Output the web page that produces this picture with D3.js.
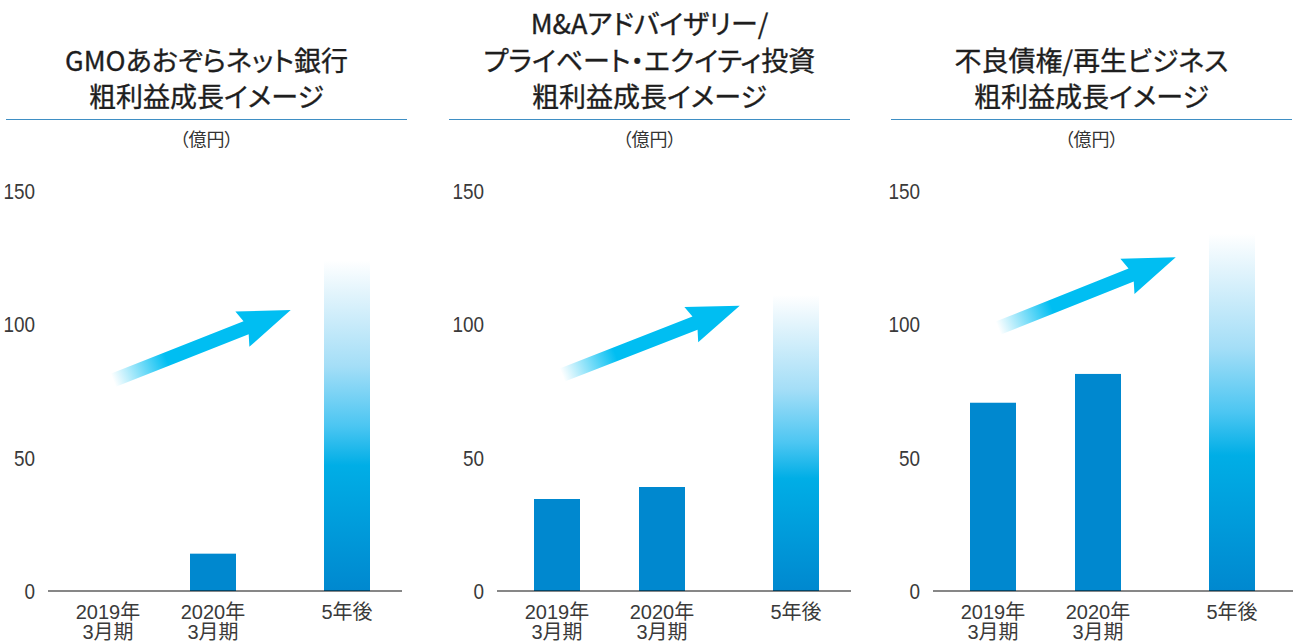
<!DOCTYPE html>
<html>
<head>
<meta charset="utf-8">
<script src="https://cdn.jsdelivr.net/npm/d3@7"></script>
<style>
  body { margin: 0; background: #fff; }
  svg { display: block; }
  .title { font-family: "Noto Sans CJK JP", sans-serif; font-weight: 500; fill: #1e1e1e; font-feature-settings: "palt"; }
  .lbl { font-family: "Liberation Sans", "Noto Sans CJK JP", sans-serif; fill: #3a3a3a; }
</style>
</head>
<body>
<div id="main"></div>
<script>
// data
var titles = [
    ["GMOあおぞらネット銀行", "粗利益成長イメージ"],
    ["M&Aアドバイザリー/", "プライベート・エクイティ投資", "粗利益成長イメージ"],
    ["不良債権/再生ビジネス", "粗利益成長イメージ"]
];
var categories = [["2019年", "3月期"], ["2020年", "3月期"], ["5年後"]];
var bankValues = [0, 14, 124];
var maValues = [34.5, 39, 111];
var npValues = [70.6, 81.4, 134];
var yTicks = [0, 50, 100, 150];
var unitLabel = "（億円）";
// arrows drawn in data units: [from, to]
var arrowValues = [[79, 105.4], [81, 107], [98.6, 125.2]];

var series = [bankValues, maValues, npValues];

var ctx = {
    w: 1293,
    h: 644,
    headOffset: [0, 443, 885],
    plotOffset: [0, 449, 885],
    headLeft: 6,
    headRight: 407,
    barW: 46
};

var svg = d3.select("#main").append("svg")
    .attr("width", ctx.w)
    .attr("height", ctx.h);

var defs = svg.append("defs");

// gradient of the "5年後" bar
var gBar = defs.append("linearGradient")
    .attr("id", "barGrad")
    .attr("x1", 0).attr("y1", 0).attr("x2", 0).attr("y2", 1);
[[0, "#ffffff"], [0.1, "#e2f4fc"], [0.32, "#a4def7"], [0.5, "#4cc6f2"], [0.62, "#00aee6"], [1, "#0088cf"]]
    .forEach(function(s) {
        gBar.append("stop").attr("offset", s[0]).attr("stop-color", s[1]);
    });

// gradient of the arrows (fading tail)
var gArrow = defs.append("linearGradient")
    .attr("id", "arrowGrad")
    .attr("x1", 0).attr("y1", 0).attr("x2", 1).attr("y2", 0);
[[0, 0], [0.3, 1], [1, 1]].forEach(function(s) {
    gArrow.append("stop").attr("offset", s[0])
        .attr("stop-color", "#00bef2").attr("stop-opacity", s[1]);
});

var y = d3.scaleLinear().domain([0, 150]).range([591, 191]);
// category index -> x (the last column sits a bit further away)
var xIdx = d3.scaleLinear().domain([0, 1, 2]).range([108, 213, 347]);

series.forEach(function(values, p) {
    // header
    var head = svg.append("g")
        .attr("transform", "translate(" + ctx.headOffset[p] + ",0)");
    var cx = (ctx.headLeft + ctx.headRight) / 2;
    var lines = titles[p];
    head.selectAll("text.title")
        .data(lines)
        .enter()
        .append("text")
        .attr("class", "title")
        .attr("x", cx)
        .attr("y", function(d, i) { return 107 - (lines.length - 1 - i) * 36.5; })
        .attr("text-anchor", "middle")
        .style("font-size", "27px")
        .style("font-weight", 400)
        .style("stroke", "#1e1e1e").style("stroke-width", 0.35)
        .text(function(d) { return d; });
    head.append("line")
        .attr("x1", ctx.headLeft).attr("x2", ctx.headRight)
        .attr("y1", 119.5).attr("y2", 119.5)
        .style("stroke", "#3f8fc4").style("stroke-width", 1.2);
    head.append("text")
        .attr("class", "title")
        .attr("x", cx).attr("y", 146)
        .attr("text-anchor", "middle")
        .style("font-weight", 400)
        .style("font-size", "18px")
        .style("fill", "#333")
        .text(unitLabel);

    // plot
    var g = svg.append("g")
        .attr("transform", "translate(" + ctx.plotOffset[p] + ",0)");

    // y axis labels (slightly condensed)
    g.selectAll("text.ytick")
        .data(yTicks)
        .enter()
        .append("text")
        .attr("class", "lbl ytick")
        .attr("transform", function(d) { return "translate(35," + y(d) + ") scale(0.86,1)"; })
        .attr("dy", "0.36em")
        .attr("text-anchor", "end")
        .style("font-size", "22px")
        .text(function(d) { return d; });

    // arrow
    var a0 = [xIdx(0.05), y(arrowValues[p][0])],
        a1 = [xIdx(1.58), y(arrowValues[p][1])];
    var len = Math.hypot(a1[0] - a0[0], a1[1] - a0[1]),
        ang = Math.atan2(a1[1] - a0[1], a1[0] - a0[0]) * 180 / Math.PI;
    var sh = 7, hh = 19, hl = 52;
    g.append("path")
        .attr("transform", "translate(" + a0[0] + "," + a0[1] + ") rotate(" + ang + ")")
        .attr("d", "M0," + (-sh) + "L" + (len - hl + 4) + "," + (-sh) +
            "L" + (len - hl) + "," + (-hh) + "L" + len + ",0L" + (len - hl) + "," + hh +
            "L" + (len - hl + 4) + "," + sh + "L0," + sh + "Z")
        .style("fill", "url(#arrowGrad)");

    // bars
    g.selectAll("rect.bar")
        .data(values)
        .enter()
        .append("rect")
        .attr("class", "bar")
        .attr("x", function(d, i) { return xIdx(i) - ctx.barW / 2; })
        .attr("width", ctx.barW)
        .attr("y", function(d) { return y(d); })
        .attr("height", function(d) { return y(0) - y(d); })
        .style("fill", function(d, i) { return i == 2 ? "url(#barGrad)" : "#0088cf"; });

    // baseline (drawn dark-transparent so it darkens the bars)
    g.append("line")
        .attr("x1", 48).attr("x2", p == 2 ? 410 : 402)
        .attr("y1", y(0)).attr("y2", y(0))
        .style("stroke", "rgba(0,0,0,0.47)").style("stroke-width", 2);

    // x labels
    var cat = g.selectAll("g.cat")
        .data(categories)
        .enter()
        .append("g")
        .attr("class", "cat");
    cat.selectAll("text")
        .data(function(d, i) { return d.map(function(t) { return {t: t, i: i}; }); })
        .enter()
        .append("text")
        .attr("class", "lbl")
        .attr("x", function(d) { return xIdx(d.i); })
        .attr("y", function(d, j) { return 619 + j * 20; })
        .attr("text-anchor", "middle")
        .style("font-size", "20px")
        .text(function(d) { return d.t; });
});
</script>
</body>
</html>
